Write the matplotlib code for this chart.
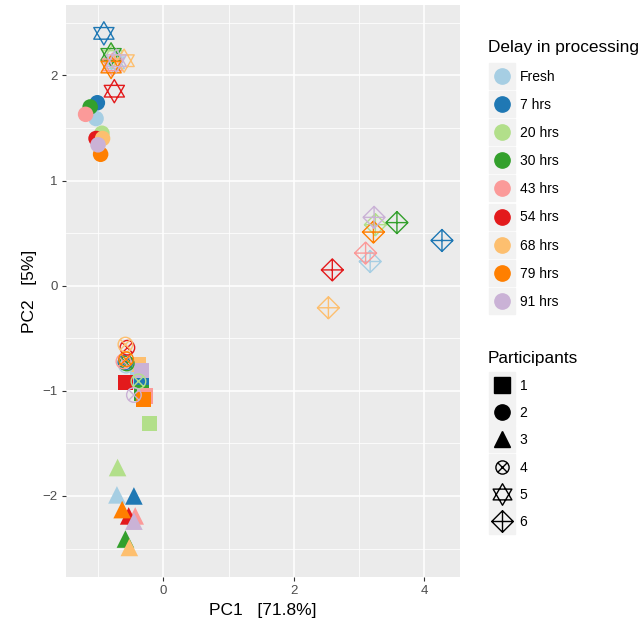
import numpy as np
import matplotlib
matplotlib.use("Agg")
import matplotlib.pyplot as plt
from matplotlib.path import Path
from matplotlib.lines import Line2D
from matplotlib.legend_handler import HandlerTuple

plt.rcParams['font.family'] = ['Liberation Sans', 'DejaVu Sans']

# delay groups and colours (Paired palette)
delays = ['Fresh', '7 hrs', '20 hrs', '30 hrs', '43 hrs', '54 hrs', '68 hrs', '79 hrs', '91 hrs']
colors = ['#A6CEE3', '#1F78B4', '#B2DF8A', '#33A02C', '#FB9A99', '#E31A1C', '#FDBF6F', '#FF7F00', '#CAB2D6']
participants = ['1', '2', '3', '4', '5', '6']

# PC1 / PC2 per participant, in delay order
pc1_p1 = [-0.40, -0.33, -0.21, -0.33, -0.28, -0.58, -0.38, -0.30, -0.33]
pc2_p1 = [-0.88, -0.92, -1.31, -1.02, -1.05, -0.92, -0.75, -1.08, -0.81]
pc1_p2 = [-1.03, -1.01, -0.94, -1.12, -1.19, -1.03, -0.93, -0.96, -1.00]
pc2_p2 = [1.59, 1.74, 1.45, 1.70, 1.63, 1.40, 1.40, 1.25, 1.34]
pc1_p3 = [-0.71, -0.45, -0.70, -0.58, -0.43, -0.53, -0.52, -0.63, -0.45]
pc2_p3 = [-1.99, -2.00, -1.73, -2.41, -2.19, -2.19, -2.49, -2.13, -2.24]
pc1_p4 = [-0.57, -0.58, -0.38, -0.56, -0.61, -0.55, -0.58, -0.57, -0.45]
pc2_p4 = [-0.76, -0.73, -0.91, -0.74, -0.72, -0.59, -0.56, -0.70, -1.04]
pc1_p5 = [-0.75, -0.91, -0.78, -0.80, -0.78, -0.75, -0.60, -0.80, -0.72]
pc2_p5 = [2.12, 2.40, 2.18, 2.20, 2.10, 1.85, 2.14, 2.08, 2.14]
pc1_p6 = [3.17, 4.27, 3.25, 3.58, 3.10, 2.59, 2.53, 3.22, 3.23]
pc2_p6 = [0.23, 0.43, 0.58, 0.60, 0.31, 0.15, -0.21, 0.51, 0.65]

pc1 = [pc1_p1, pc1_p2, pc1_p3, pc1_p4, pc1_p5, pc1_p6]
pc2 = [pc2_p1, pc2_p2, pc2_p3, pc2_p4, pc2_p5, pc2_p6]


# ggplot-like open shapes built as paths
def circle_cross():
    c = Path.unit_circle()
    d = np.sqrt(0.5)
    x = Path([(-d, -d), (d, d), (-d, d), (d, -d)],
             [Path.MOVETO, Path.LINETO, Path.MOVETO, Path.LINETO])
    return Path.make_compound_path(c, x)


def star_david():
    up = Path([(0, 1), (-0.87, -0.5), (0.87, -0.5), (0, 1)],
              [Path.MOVETO, Path.LINETO, Path.LINETO, Path.CLOSEPOLY])
    dn = Path([(0, -1), (-0.87, 0.5), (0.87, 0.5), (0, -1)],
              [Path.MOVETO, Path.LINETO, Path.LINETO, Path.CLOSEPOLY])
    return Path.make_compound_path(up, dn)


def diamond_plus():
    dm = Path([(0, 1), (1, 0), (0, -1), (-1, 0), (0, 1)],
              [Path.MOVETO, Path.LINETO, Path.LINETO, Path.LINETO, Path.CLOSEPOLY])
    pl = Path([(0, -1), (0, 1), (-1, 0), (1, 0)],
              [Path.MOVETO, Path.LINETO, Path.MOVETO, Path.LINETO])
    return Path.make_compound_path(dm, pl)


shapes = ['s', 'o', '^', circle_cross(), star_david(), diamond_plus()]
filled = [True, True, True, False, False, False]
sizes = [120, 125, 160, 110, 280, 250]

fig = plt.figure(figsize=(6.41, 6.23), dpi=100)
ax = fig.add_axes([0.103, 0.074, 0.615, 0.918])
ax.set_facecolor('#EBEBEB')

for p in range(6):
    for d in range(len(delays)):
        if filled[p]:
            ax.scatter(pc1[p][d], pc2[p][d], marker=shapes[p], s=sizes[p],
                       c=colors[d], edgecolors='none', zorder=3)
        else:
            ax.scatter(pc1[p][d], pc2[p][d], marker=shapes[p], s=sizes[p],
                       facecolors='none', edgecolors=colors[d], linewidths=1.0, zorder=3)

ax.set_xlim(-1.49, 4.55)
ax.set_ylim(-2.77, 2.67)
ax.set_xticks([0, 2, 4])
ax.set_yticks([-2, -1, 0, 1, 2])
ax.set_xticks([-1, 1, 3], minor=True)
ax.set_yticks([-2.5, -1.5, -0.5, 0.5, 1.5, 2.5], minor=True)
ax.set_xticklabels(['0', '2', '4'])
ax.set_yticklabels(['\u22122', '\u22121', '0', '1', '2'])
ax.grid(which='major', color='white', linewidth=1.1)
ax.grid(which='minor', color='white', linewidth=0.55)
ax.set_axisbelow(True)
for s in ax.spines.values():
    s.set_visible(False)
ax.tick_params(which='major', length=3, color='#333333', labelsize=9.5, labelcolor='#4D4D4D', pad=3)
ax.tick_params(which='minor', length=0)
ax.set_xlabel('PC1   [71.8%]', fontsize=12.5, labelpad=4)
ax.set_ylabel('PC2   [5%]', fontsize=12.5, labelpad=4)

# legends
bg = dict(marker='s', markersize=18.8, color='#F2F2F2', linestyle='none')
h_delay = [(Line2D([], [], **bg),
            Line2D([], [], marker='o', markersize=11, color=c, linestyle='none'))
           for c in colors]
h_part = []
for p in range(6):
    if filled[p]:
        mk = Line2D([], [], marker=shapes[p], markersize=11, color='black', linestyle='none')
    else:
        mk = Line2D([], [], marker=shapes[p], markersize=9.5 if p == 3 else 15.5,
                    markerfacecolor='none', markeredgecolor='black', markeredgewidth=1.0,
                    linestyle='none')
    h_part.append((Line2D([], [], **bg), mk))

common = dict(loc='upper left', frameon=False, fontsize=10, title_fontsize=12.4,
              handler_map={tuple: HandlerTuple(ndivide=1)}, handlelength=2.0,
              handletextpad=0.3, borderpad=0, borderaxespad=0)
leg1 = fig.legend(h_delay, delays, bbox_to_anchor=(0.761, 0.935),
                  title='Delay in processing', labelspacing=1.02, **common)
leg1._legend_box.align = 'left'
leg2 = fig.legend(h_part, participants, bbox_to_anchor=(0.761, 0.437),
                  title='Participants', labelspacing=0.95, **common)
leg2._legend_box.align = 'left'

fig.savefig('out.png', dpi=100)
